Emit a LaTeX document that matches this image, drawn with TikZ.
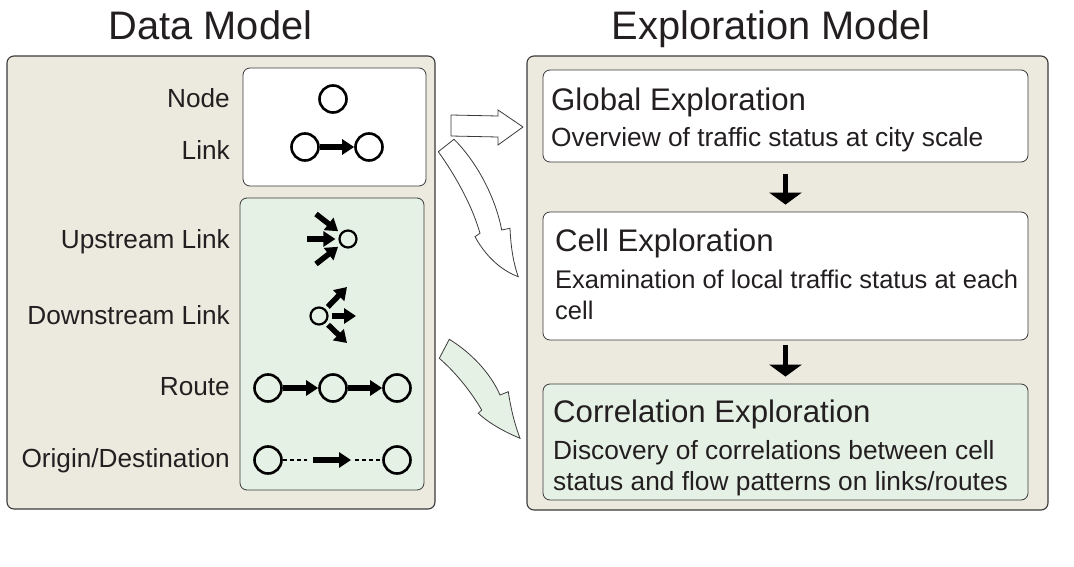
\documentclass[tikz,border=0pt]{standalone}
\usepackage{fontspec}
\setmainfont{Liberation Sans}
\usetikzlibrary{arrows.meta,positioning}
\definecolor{panelbeige}{HTML}{ECE9DF}
\definecolor{cellgreen}{HTML}{E6F1E6}
\definecolor{edgegray}{HTML}{3A3A3A}
\definecolor{inkgray}{HTML}{231F20}
\tikzset{
  panel/.style={rectangle, rounded corners=7pt, draw=edgegray, line width=1.1pt, fill=panelbeige},
  innerbox/.style={rectangle, rounded corners=7pt, draw=edgegray, line width=0.8pt, fill=white},
  greenbox/.style={innerbox, fill=cellgreen},
  paneltitle/.style={font=\fontsize{39.8}{45}\selectfont, anchor=base, inner sep=0pt, text=inkgray},
  itemlabel/.style={font=\fontsize{26.2}{30}\selectfont, anchor=base east, inner sep=0pt, text=inkgray},
  boxhead/.style={font=\fontsize{31.2}{36}\selectfont, anchor=base west, inner sep=0pt, text=inkgray},
  boxtext/.style={font=\fontsize{26.3}{31}\selectfont, anchor=north west, inner sep=0pt, align=left, text=inkgray},
  vertex/.style={circle, draw=black, line width=2.6pt, minimum size=27pt, inner sep=0pt},
  smallvertex/.style={vertex, minimum size=17pt, line width=2.2pt},
  linkarrow/.style={line width=5.5pt, -{Triangle[length=12pt,width=15pt]}},
  dashline/.style={line width=1.2pt, dash pattern=on 4pt off 3pt},
  flowdown/.style={line width=5pt, -{Triangle[length=12pt,width=32pt]}},
  blockarrow/.style={draw=edgegray, line width=0.8pt, fill=white},
}
\begin{document}
\begin{tikzpicture}[x=1pt, y=-1pt]
  \useasboundingbox (0,0) rectangle (1074,567);
  \node[paneltitle] (datatitle) at (210.5,40) {Data Model};
  \node[paneltitle] (exptitle) at (771,40) {Exploration Model};
  \node[panel, minimum width=428pt, minimum height=453pt] (datapanel) at (221,282.5) {};
  \node[panel, minimum width=521pt, minimum height=454pt] (exppanel) at (787.5,283) {};
  \node[innerbox, minimum width=183pt, minimum height=118pt] (basicbox) at (334.5,127) {};
  \node[greenbox, minimum width=184pt, minimum height=292pt] (derivedbox) at (332,344) {};
  \node[itemlabel] (nodelbl) at (230,108) {Node};
  \node[itemlabel] (linklbl) at (230,160) {Link};
  \node[itemlabel] (uplbl) at (230,248) {Upstream Link};
  \node[itemlabel] (downlbl) at (230,324) {Downstream Link};
  \node[itemlabel] (routelbl) at (230,395) {Route};
  \node[itemlabel] (odlbl) at (230,467) {Origin/Destination};
  \node[vertex] (nd) at (333,99) {};
  \node[vertex] (la) at (305,147) {};
  \node[vertex] (lb) at (369,147) {};
  \draw[linkarrow] (la) -- (lb);
  \node[smallvertex] (us) at (348,239) {};
  \coordinate (u1) at (316,214);
  \coordinate (u2) at (307,239);
  \coordinate (u3) at (316,264);
  \foreach \u in {u1,u2,u3}
    \draw[linkarrow, shorten >=3pt] (\u) -- (us);
  \node[smallvertex] (ds) at (319,316) {};
  \coordinate (d1) at (347,287);
  \coordinate (d2) at (356,316);
  \coordinate (d3) at (347,343);
  \foreach \d in {d1,d2,d3}
    \draw[linkarrow, shorten <=3pt] (ds) -- (\d);
  \node[vertex] (r1) at (268,388) {};
  \node[vertex] (r2) at (333,388) {};
  \node[vertex] (r3) at (397,388) {};
  \draw[linkarrow] (r1) -- (r2);
  \draw[linkarrow] (r2) -- (r3);
  \node[vertex] (o1) at (268,460) {};
  \node[vertex] (o2) at (397,460) {};
  \coordinate (odtail) at (313,460);
  \coordinate (odhead) at (351,460);
  \draw[dashline] (o1) -- ([xshift=-6pt]odtail);
  \draw[linkarrow] (odtail) -- (odhead);
  \draw[dashline] ([xshift=4pt]odhead) -- (o2);
  \node[innerbox, minimum width=485pt, minimum height=92pt] (global) at (785.5,116) {};
  \node[innerbox, minimum width=485pt, minimum height=128pt] (cell) at (785.5,276) {};
  \node[greenbox, minimum width=485pt, minimum height=116pt] (corr) at (785.5,442) {};
  \node[boxhead] (globalhead) at (551,111) {Global Exploration};
  \node[boxtext] (globaltext) at (551,127) {Overview of traffic status at city scale};
  \node[boxhead] (cellhead) at (555,251) {Cell Exploration};
  \node[boxtext, font=\fontsize{25.5}{31}\selectfont] (celltext) at (555,270) {Examination of local traffic status at each\\cell};
  \node[boxhead] (corrhead) at (553,422) {Correlation Exploration};
  \node[boxtext] (corrtext) at (553,440) {Discovery of correlations between cell\\status and flow patterns on links/routes};
  \draw[flowdown, shorten <=12pt, shorten >=7pt] (global) -- (cell);
  \draw[flowdown, shorten <=5pt, shorten >=7pt] (cell) -- (corr);
  \draw[blockarrow] (451,115) -- (498,116) -- (498,110) -- (523,127) -- (498,145) -- (498,137) -- (451,136) -- cycle;
  \draw[blockarrow] (454,139.3) .. controls (475,160) and (495,195) .. (501.7,230) -- (510,228.3)
    .. controls (511,250) and (514,265) .. (518.3,276.7) .. controls (500,270) and (485,255) .. (475,236.7)
    -- (480,233.3) .. controls (472,205) and (455,175) .. (438.3,151.7) -- cycle;
  \draw[blockarrow, fill=cellgreen] (449.3,339.3) .. controls (470,352) and (490,372) .. (500,395) -- (508.3,391.7)
    .. controls (511,410) and (515,425) .. (520,438.3) .. controls (505,432) and (490,424) .. (478.3,413.3)
    -- (481.7,410) .. controls (470,390) and (455,372) .. (439.3,358.3) -- cycle;
\end{tikzpicture}
\end{document}
